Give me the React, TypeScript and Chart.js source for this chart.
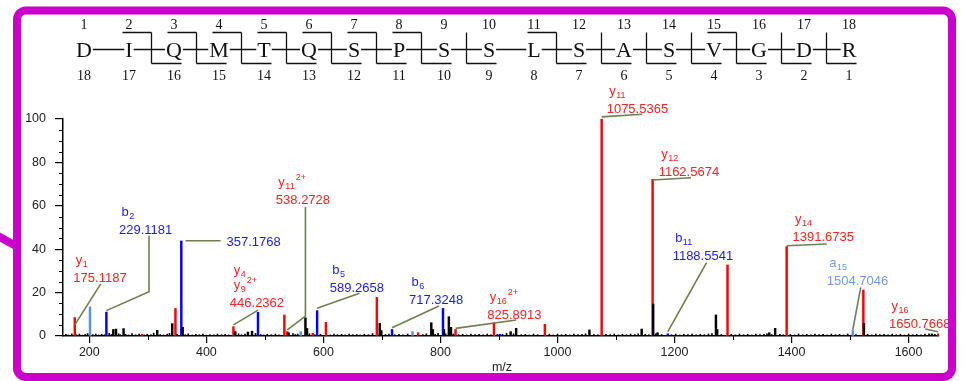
import React, { useEffect, useRef } from 'react';
import { Chart, registerables } from 'chart.js';

Chart.register(...registerables);

// ---------------- data ----------------
const SEQUENCE = ['D', 'I', 'Q', 'M', 'T', 'Q', 'S', 'P', 'S', 'S', 'L', 'S', 'A', 'S', 'V', 'G', 'D', 'R'];
const B_CUTS = [2, 3, 4, 5, 6, 7, 8, 11, 15];
const Y_CUTS = [2, 3, 4, 5, 6, 7, 8, 9, 11, 12, 13, 14, 15, 16, 17];

const X_RANGE = [155, 1652];
const X_TICKS = [200, 400, 600, 800, 1000, 1200, 1400, 1600];
const X_MINOR = [300, 500, 700, 900, 1100, 1300, 1500];
const Y_TICKS = [0, 20, 40, 60, 80, 100];
const Y_MINOR = [5, 10, 15, 25, 30, 35, 45, 50, 55, 65, 70, 75, 85, 90, 95];
const X_TITLE = 'm/z';

// [m/z, relative intensity]
const Y_IONS: [number, number][] = [
  [175.12, 8.5], [290.15, 0.8], [347.17, 12.7], [446.24, 4.3], [533.27, 9.7], [538.27, 2.0],
  [581.8, 1.2], [604.31, 6.3], [691.34, 17.8], [761.86, 1.5], [825.89, 3.0], [891.45, 6.1],
  [978.48, 5.4], [1075.54, 100], [1162.57, 72.2], [1290.63, 32.7], [1391.67, 41.2],
  [1522.72, 21.2], [1650.77, 1.0],
];
const B_IONS: [number, number][] = [
  [229.12, 11.0], [357.18, 43.8], [488.22, 10.9], [589.27, 11.7], [717.32, 3.0],
  [804.36, 12.7], [901.41, 0.8], [1188.55, 1.0],
];
const A_IONS: [number, number][] = [
  [201.12, 13.4], [561.27, 2.0], [752.3, 2.0], [1504.7, 2.5],
];
const OTHER_PEAKS: [number, number][] = [
  [241, 3.0], [245.6, 3.2], [258.5, 3.4], [316, 2.6], [341.7, 5.7], [359.5, 4.0], [449.5, 2.0],
  [471, 1.8], [478, 2.2], [540.5, 1.5], [569.3, 8.4], [572, 3.5], [696.3, 5.8], [699, 2.5],
  [784.4, 6.1], [787, 3.0], [806, 3.0], [814.4, 8.9], [818, 4.0], [920, 2.0], [929.4, 3.5],
  [1054.6, 2.8], [1143.9, 3.2], [1163.6, 14.7], [1171, 1.5], [1270.8, 9.7], [1273, 3.0],
  [1362, 1.5], [1372, 3.5], [1523.7, 5.8], [1640, 1.0],
];
const NOISE_PEAKS: [number, number][] = [
  [160, 0.8], [164, 0.5], [170, 1.0], [178, 0.6], [183, 0.9], [188, 0.4], [193, 0.7], [197, 1.1],
  [206, 0.6], [211, 0.9], [216, 0.5], [221, 0.8], [226, 0.6], [234, 1.2], [238, 0.7], [250, 1.0],
  [253, 0.6], [262, 0.8], [267, 0.5], [273, 1.1], [279, 0.6], [285, 0.9], [294, 0.5], [299, 0.8],
  [305, 0.6], [310, 1.3], [321, 0.7], [327, 0.5], [333, 0.9], [337, 1.2], [350, 0.8], [364, 0.6],
  [369, 1.0], [376, 0.5], [382, 0.8], [388, 0.6], [394, 0.9], [400, 0.4], [406, 0.7], [413, 0.5],
  [419, 0.9], [426, 0.6], [432, 0.8], [438, 0.5], [455, 1.0], [460, 0.6], [466, 0.9], [484, 1.2],
  [493, 0.7], [498, 0.5], [504, 0.8], [511, 0.6], [518, 0.9], [524, 0.5], [548, 1.1], [552, 0.7],
  [556, 0.9], [576, 1.0], [585, 0.6], [595, 0.8], [612, 0.5], [618, 0.9], [624, 0.6], [631, 0.8],
  [637, 0.5], [644, 0.9], [650, 0.6], [657, 0.7], [663, 0.5], [670, 0.8], [677, 0.6], [684, 1.1],
  [706, 0.7], [712, 0.9], [722, 0.6], [729, 0.8], [736, 0.5], [744, 0.9], [770, 0.7], [776, 1.0],
  [791, 0.8], [796, 1.2], [809, 1.0], [822, 0.9], [831, 0.6], [838, 0.8], [845, 0.5], [852, 0.9],
  [859, 0.6], [866, 0.8], [873, 0.5], [880, 0.9], [886, 0.6], [897, 0.7], [906, 0.8], [913, 1.2],
  [925, 1.0], [938, 0.6], [945, 0.8], [952, 0.5], [959, 0.9], [966, 0.6], [986, 0.8], [993, 0.5],
  [1000, 0.9], [1007, 0.6], [1014, 0.8], [1021, 0.5], [1028, 0.9], [1035, 0.6], [1042, 0.8],
  [1048, 1.0], [1062, 0.7], [1069, 0.5], [1083, 0.8], [1090, 0.6], [1097, 0.9], [1104, 0.5],
  [1111, 0.8], [1118, 0.6], [1125, 0.9], [1132, 0.7], [1138, 1.0], [1150, 0.8], [1156, 0.6],
  [1168, 1.0], [1178, 0.7], [1195, 0.6], [1202, 0.9], [1209, 0.5], [1216, 0.8], [1223, 0.6],
  [1230, 0.9], [1237, 0.5], [1244, 0.8], [1251, 0.6], [1258, 0.9], [1264, 1.1], [1280, 0.7],
  [1297, 0.8], [1304, 0.5], [1311, 0.9], [1318, 0.6], [1325, 0.8], [1332, 0.5], [1339, 0.9],
  [1346, 0.6], [1353, 0.8], [1358, 1.0], [1366, 0.7], [1380, 0.8], [1386, 0.6], [1398, 0.7],
  [1405, 0.5], [1412, 0.9], [1419, 0.6], [1426, 0.8], [1433, 0.5], [1440, 0.9], [1447, 0.6],
  [1454, 0.8], [1461, 0.5], [1468, 0.9], [1475, 0.6], [1482, 0.8], [1489, 0.5], [1496, 0.9],
  [1510, 0.7], [1530, 0.8], [1537, 0.5], [1544, 0.9], [1551, 0.6], [1558, 0.8], [1565, 0.5],
  [1572, 0.9], [1579, 0.6], [1586, 0.8], [1593, 0.5], [1600, 0.9], [1607, 0.6], [1614, 0.8],
  [1621, 0.5], [1628, 0.9], [1635, 1.0], [1645, 0.8],
];

// ---------------- styles ----------------
const RED = '#ff0000';
const BLUE = '#0000ff';
const LIGHT = '#5b8ff0';
const RED_TXT = '#ff2020';
const BLUE_TXT = '#1a1aff';
const LIGHT_TXT = '#6d9ded';
const LEADER = '#6f7f50';
const MAGENTA = '#cc00cc';
const SANS = '"Liberation Sans", Arial, Helvetica, sans-serif';
const SERIF = '"Liberation Serif", "Times New Roman", Times, serif';

type Ion = [string, string, string];
type PeakLabel = {
  ions: Ion[];
  value: string;
  color: string;
  at: [number, number]; // left m/z, intensity of number baseline
  leader: [number, number][];
};

// annotation placement (data coordinates)
const LABELS: PeakLabel[] = [
  { ions: [['y', '1', '']], value: '175.1187', color: RED_TXT, at: [172.7, 25.0], leader: [[175.12, 5.1], [219.5, 24.0]] },
  { ions: [['b', '2', '']], value: '229.1181', color: BLUE_TXT, at: [250.7, 46.8], leader: [[229.12, 11.7], [302, 20.4], [302, 46.2]] },
  { ions: [], value: '357.1768', color: BLUE_TXT, at: [434.5, 41.7], leader: [[364.5, 43.9], [424.3, 43.9]] },
  { ions: [['y', '4', ''], ['y', '9', '2+']], value: '446.2362', color: RED_TXT, at: [440.1, 13.5], leader: [[446.24, 5.1], [488.4, 11.9]] },
  { ions: [['y', '11', '2+']], value: '538.2728', color: RED_TXT, at: [518.7, 60.6], leader: [[538.27, 2.8], [569.3, 9.2], [569.3, 59.6]] },
  { ions: [['b', '5', '']], value: '589.2658', color: BLUE_TXT, at: [610.8, 20.2], leader: [[589.27, 12.8], [661.6, 19.7]] },
  { ions: [['b', '6', '']], value: '717.3248', color: BLUE_TXT, at: [746.2, 14.8], leader: [[717.32, 3.8], [797.4, 13.8]] },
  { ions: [['y', '16', '2+']], value: '825.8913', color: RED_TXT, at: [880.0, 7.9], leader: [[825.89, 3.5], [929.4, 7.4]] },
  { ions: [['y', '11', '']], value: '1075.5365', color: RED_TXT, at: [1084.1, 102.9], leader: [[1075.54, 101], [1144.5, 102.2]] },
  { ions: [['y', '12', '']], value: '1162.5674', color: RED_TXT, at: [1172.9, 73.6], leader: [[1162.57, 71.9], [1228.2, 72.9]] },
  { ions: [['b', '11', '']], value: '1188.5541', color: BLUE_TXT, at: [1196.8, 34.9], leader: [[1188.55, 2.0], [1254.8, 33.8]] },
  { ions: [['y', '14', '']], value: '1391.6735', color: RED_TXT, at: [1401.6, 43.7], leader: [[1391.67, 41.6], [1460.2, 42.4]] },
  { ions: [['a', '15', '']], value: '1504.7046', color: LIGHT_TXT, at: [1460.3, 23.7], leader: [[1504.7, 2.8], [1518.3, 22.4]] },
  { ions: [['y', '16', '']], value: '1650.7668', color: RED_TXT, at: [1566.6, 3.8], leader: [[1628.6, 3.2], [1650.3, 2.0]] },
];

const toPoints = (arr: [number, number][]) => arr.map(([x, y]) => ({ x, y }));

function drawIon(ctx: CanvasRenderingContext2D, x: number, y: number, ion: Ion) {
  ctx.font = `13px ${SANS}`;
  ctx.fillText(ion[0], x, y);
  const w = ctx.measureText(ion[0]).width;
  ctx.font = `9px ${SANS}`;
  let sw = 0;
  if (ion[1]) {
    ctx.fillText(ion[1], x + w + 0.5, y + 3);
    sw = ctx.measureText(ion[1]).width + 0.5;
  }
  if (ion[2]) ctx.fillText(ion[2], x + w + sw + 1, y - 6);
}

const decorPlugin = {
  id: 'spectrumDecor',
  afterDraw(chart: any) {
    const ctx: CanvasRenderingContext2D = chart.ctx;
    const xs = chart.scales.x;
    const ys = chart.scales.y;
    const area = chart.chartArea;
    const px = (v: number) => xs.getPixelForValue(v);
    const py = (v: number) => ys.getPixelForValue(v);
    ctx.save();

    // minor ticks
    ctx.strokeStyle = '#000';
    ctx.lineWidth = 1;
    ctx.beginPath();
    X_MINOR.forEach((v) => {
      const x = Math.round(px(v)) + 0.5;
      ctx.moveTo(x, area.bottom);
      ctx.lineTo(x, area.bottom + 4);
    });
    Y_MINOR.forEach((v) => {
      const y = Math.round(py(v)) + 0.5;
      ctx.moveTo(area.left, y);
      ctx.lineTo(area.left - 4, y);
    });
    ctx.stroke();

    // axis title
    ctx.fillStyle = '#222';
    ctx.font = `12.5px ${SANS}`;
    ctx.textAlign = 'center';
    ctx.textBaseline = 'middle';
    ctx.fillText(X_TITLE, (area.left + area.right) / 2 + 1, 368);

    // leader lines
    ctx.strokeStyle = LEADER;
    ctx.lineWidth = 1.6;
    LABELS.forEach((l) => {
      ctx.beginPath();
      l.leader.forEach(([m, i], k) => {
        if (k === 0) ctx.moveTo(px(m), py(i));
        else ctx.lineTo(px(m), py(i));
      });
      ctx.stroke();
    });

    // labels
    ctx.textAlign = 'left';
    ctx.textBaseline = 'alphabetic';
    LABELS.forEach((l) => {
      const x = px(l.at[0]);
      const y = py(l.at[1]);
      ctx.fillStyle = l.color;
      ctx.font = `13px ${SANS}`;
      ctx.fillText(l.value, x, y);
      const n = l.ions.length;
      l.ions.forEach((ion, k) => {
        const dy = 18 + (n - 1 - k) * 15;
        drawIon(ctx, x + (n > 1 ? 4 : 2.5), y - dy, ion);
      });
    });

    // peptide header
    const HX0 = 84;
    const HDX = 45;
    const HY = 49.5;
    ctx.fillStyle = '#111';
    ctx.strokeStyle = '#111';
    ctx.lineWidth = 1.3;
    ctx.font = `22px ${SERIF}`;
    const widths = SEQUENCE.map((s) => ctx.measureText(s).width);
    const xsH = SEQUENCE.map((_, i) => HX0 + i * HDX);
    ctx.textAlign = 'center';
    SEQUENCE.forEach((s, i) => ctx.fillText(s, xsH[i], HY + 7.5));
    ctx.font = `14px ${SERIF}`;
    SEQUENCE.forEach((_, i) => {
      ctx.fillText(String(i + 1), xsH[i], 28.5);
      ctx.fillText(String(SEQUENCE.length - i), xsH[i], 79.5);
    });
    ctx.beginPath();
    for (let i = 0; i < SEQUENCE.length - 1; i++) {
      const a = xsH[i] + widths[i] / 2 + 1;
      const b = xsH[i + 1] - widths[i + 1] / 2 - 1;
      ctx.moveTo(a, HY);
      ctx.lineTo(b, HY);
      const cut = i + 1;
      const hasB = B_CUTS.includes(cut);
      const hasY = Y_CUTS.includes(cut);
      const mid = (xsH[i] + xsH[i + 1]) / 2;
      const top = HY - 17;
      const bot = HY + 14;
      if (hasB || hasY) {
        ctx.moveTo(mid, top);
        ctx.lineTo(mid, bot);
      }
      if (hasB) {
        ctx.moveTo(mid - 29, top);
        ctx.lineTo(mid, top);
      }
      if (hasY) {
        ctx.moveTo(mid, bot);
        ctx.lineTo(mid + 30, bot);
      }
    }
    ctx.stroke();

    // frame
    ctx.strokeStyle = MAGENTA;
    ctx.lineWidth = 8;
    ctx.lineCap = 'butt';
    ctx.beginPath();
    ctx.moveTo(-2, 236);
    ctx.lineTo(16, 246);
    ctx.stroke();
    ctx.beginPath();
    (ctx as any).roundRect(17, 10.5, 935, 366.5, 9);
    ctx.stroke();

    ctx.restore();
  },
};

export default function App() {
  const ref = useRef<HTMLCanvasElement | null>(null);

  useEffect(() => {
    if (!ref.current) return;
    Chart.defaults.font.family = SANS;
    const ds = (arr: [number, number][], color: string, thick: number) => ({
      data: toPoints(arr),
      backgroundColor: color,
      borderWidth: 0,
      barThickness: thick,
      grouped: false,
    });
    const chart = new Chart(ref.current, {
      type: 'bar',
      data: {
        datasets: [
          ds(NOISE_PEAKS, '#000', 1),
          ds(OTHER_PEAKS, '#000', 1.8),
          ds(A_IONS, LIGHT, 1.8),
          ds(B_IONS, BLUE, 1.8),
          ds(Y_IONS, RED, 1.8),
        ] as any,
      },
      plugins: [decorPlugin],
      options: {
        animation: false,
        responsive: false,
        devicePixelRatio: 1,
        layout: { padding: { top: 119, right: 31, left: 0, bottom: 0 } },
        plugins: { legend: { display: false }, tooltip: { enabled: false }, title: { display: false } },
        scales: {
          x: {
            type: 'linear',
            min: X_RANGE[0],
            max: X_RANGE[1],
            offset: false,
            afterBuildTicks: (s: any) => {
              s.ticks = X_TICKS.map((value) => ({ value }));
            },
            afterFit: (s: any) => {
              s.height = 45;
            },
            ticks: {
              autoSkip: false,
              maxRotation: 0,
              color: '#222',
              font: { size: 12.5 },
              padding: 2,
              callback: (v: any) => String(v),
            },
            grid: { offset: false, drawOnChartArea: false, tickLength: 7, color: '#000', lineWidth: 1.2 },
            border: { color: '#000', width: 1.5 },
          },
          y: {
            type: 'linear',
            min: 0,
            max: 100,
            afterBuildTicks: (s: any) => {
              s.ticks = Y_TICKS.map((value) => ({ value }));
            },
            afterFit: (s: any) => {
              s.width = 63;
            },
            ticks: { color: '#222', font: { size: 12.5 }, padding: 9, callback: (v: any) => String(v) },
            grid: { drawOnChartArea: false, tickLength: 8, color: '#000', lineWidth: 1.2 },
            border: { color: '#000', width: 1.5 },
          },
        },
      } as any,
    });
    return () => chart.destroy();
  }, []);

  return (
    <div style={{ position: 'fixed', left: 0, top: 0, width: 970, height: 381, background: '#fff' }}>
      <canvas ref={ref} width={970} height={381} style={{ display: 'block', width: 970, height: 381 }} />
    </div>
  );
}
